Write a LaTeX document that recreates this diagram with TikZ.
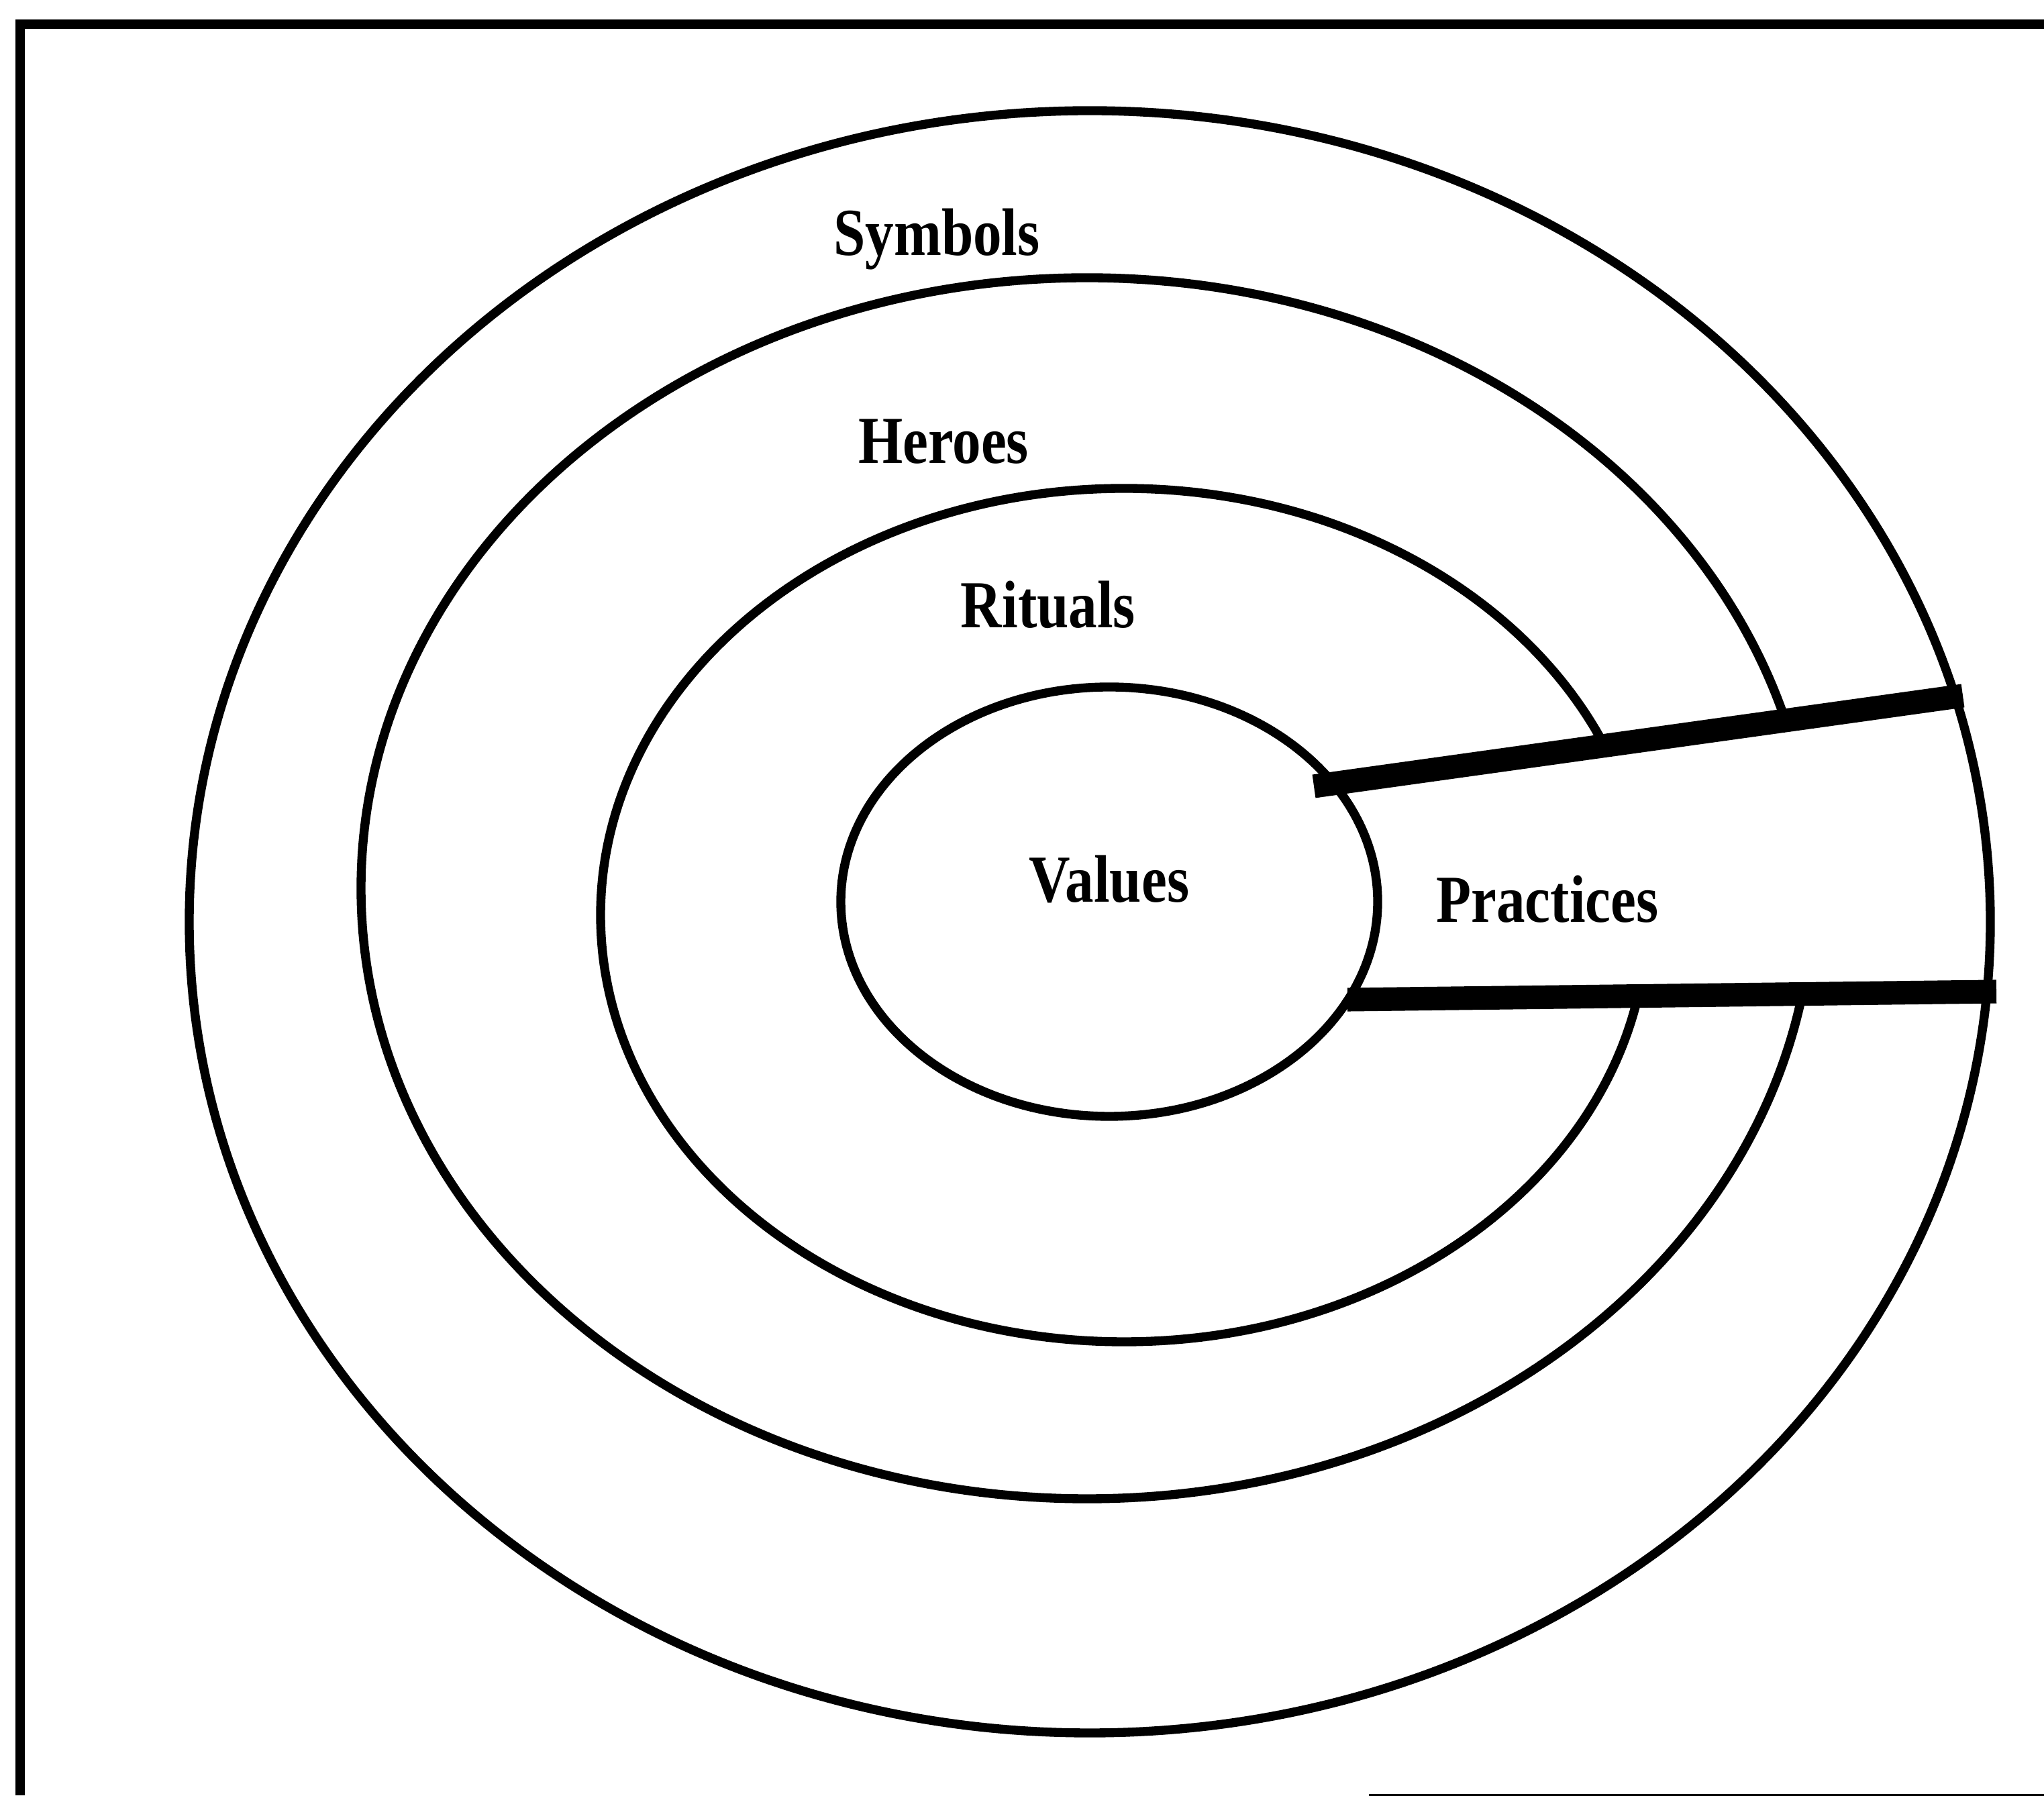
\documentclass[tikz,border=0pt]{standalone}
\usepackage{fontspec}
\setmainfont{Liberation Serif}
\newfontfamily\ringfont[FakeStretch=0.85]{Liberation Serif}

\begin{document}
\begin{tikzpicture}[
    ring/.style={draw, line width=3.8pt},
    layerlabel/.style={font=\ringfont\bfseries\fontsize{28.5}{30}\selectfont, inner sep=0pt, anchor=base},
    bandbar/.style={line width=10pt},
    frameline/.style={line width=4pt}
]
    \useasboundingbox (0,0) rectangle (30.46,26.76);

    % Frame
    \draw[frameline] (0.30,0) -- (0.30,26.40) -- (30.46,26.40);
    \draw[line width=3pt] (20.40,-0.03) -- (30.46,-0.03);

    % Heroes and Rituals layers
    \draw[ring] (16.20,13.52) ellipse [x radius=10.82, y radius=9.10];
    \draw[ring] (16.75,13.12) ellipse [x radius=7.80, y radius=6.36];

    % Practices band
    \coordinate (bandul) at (19.58,15.04);
    \coordinate (bandur) at (29.25,16.39);
    \coordinate (bandlr) at (29.75,11.98);
    \coordinate (bandll) at (20.08,11.86);
    \fill[white] (bandul) -- (bandur) -- (bandlr) -- (bandll) -- cycle;

    % Symbols and Values layers
    \draw[ring] (16.24,13.02) ellipse [x radius=13.42, y radius=12.09];
    \draw[ring] (16.53,13.32) ellipse [x radius=4.00, y radius=3.20];

    \draw[bandbar] (bandul) -- (bandur);
    \draw[bandbar] (bandll) -- (bandlr);

    % Labels
    \node[layerlabel] (symbols) at (13.96,22.95) {Symbols};
    \node[layerlabel] (heroes) at (14.06,19.85) {Heroes};
    \node[layerlabel] (rituals) at (15.62,17.40) {Rituals};
    \node[layerlabel] (values) at (16.53,13.31) {Values};
    \node[layerlabel] (practices) at (23.06,13.01) {Practices};

\end{tikzpicture}
\end{document}
